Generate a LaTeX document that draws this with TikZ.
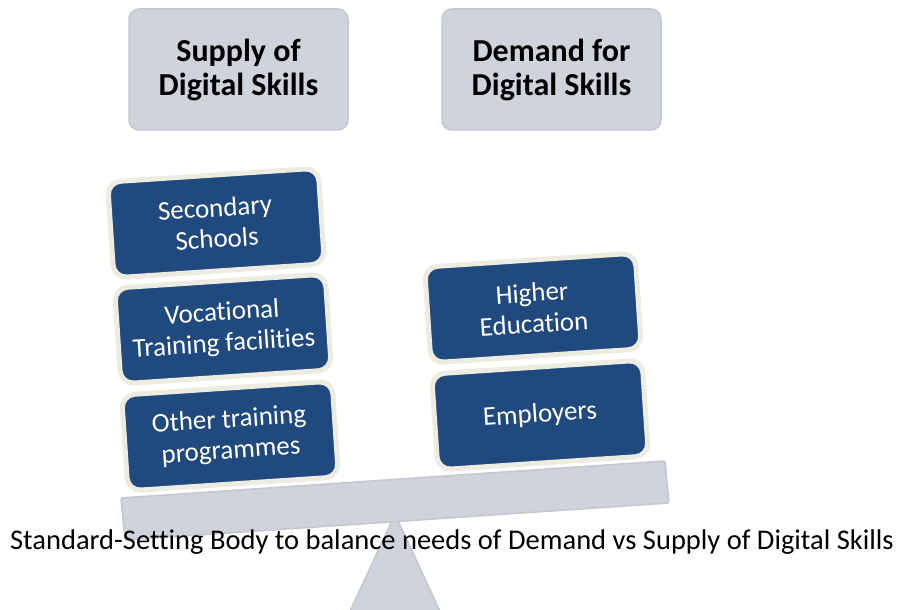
\documentclass[tikz,border=0pt]{standalone}
\usepackage{fontspec}
\setmainfont[Ligatures=NoCommon]{Carlito}
\definecolor{greyfill}{RGB}{208,211,219}
\definecolor{greyline}{RGB}{196,199,208}
\definecolor{bluefill}{RGB}{32,73,125}
\definecolor{cream}{RGB}{238,236,225}
\tikzset{
  topbox/.style={draw=greyline, line width=1.5pt, fill=greyfill, rounded corners=10pt,
    minimum width=219pt, minimum height=121pt, align=center, inner sep=0pt,
    font=\bfseries\fontsize{32}{34}\selectfont},
  bluebox/.style={draw=cream, line width=5pt, fill=bluefill, rounded corners=13pt,
    minimum width=211pt, minimum height=96pt, align=center, inner sep=0pt,
    text=white, font=\fontsize{27}{31}\selectfont, rotate=3.8},
  beamstyle/.style={draw=greyline, line width=1.5pt, fill=greyfill, line join=round},
  captionstyle/.style={font=\fontsize{28.5}{32}\selectfont, inner sep=0pt}
}
\begin{document}
\begin{tikzpicture}[x=1pt,y=-1pt]
\useasboundingbox (0,0) rectangle (898,610);
\fill[white] (0,0) rectangle (898,610);
\begin{scope}
  \clip (0,0) rectangle (898,610);
  \draw[beamstyle] (395,514) -- (444,620) -- (346,620) -- cycle;
\end{scope}
\draw[beamstyle, rounded corners=2pt] (121,498) -- (665,461) -- (669,503) -- (125,540) -- cycle;
\node[captionstyle, anchor=base] (caption) at (452,549) {Standard-Setting Body to balance needs of Demand vs Supply of Digital Skills};
\node[topbox] (supply) at (238.5,69.5) {Supply of\\Digital Skills};
\node[topbox] (demand) at (551.5,69.5) {Demand for\\Digital Skills};
\node[bluebox] (secondary) at (216,223) {Secondary\\Schools};
\node[bluebox] (vocational) at (223,329) {Vocational\\Training facilities};
\node[bluebox] (other) at (230,436) {Other training\\programmes};
\node[bluebox] (higher) at (533,308) {Higher\\Education};
\node[bluebox] (employers) at (540,415) {Employers};
\end{tikzpicture}
\end{document}
